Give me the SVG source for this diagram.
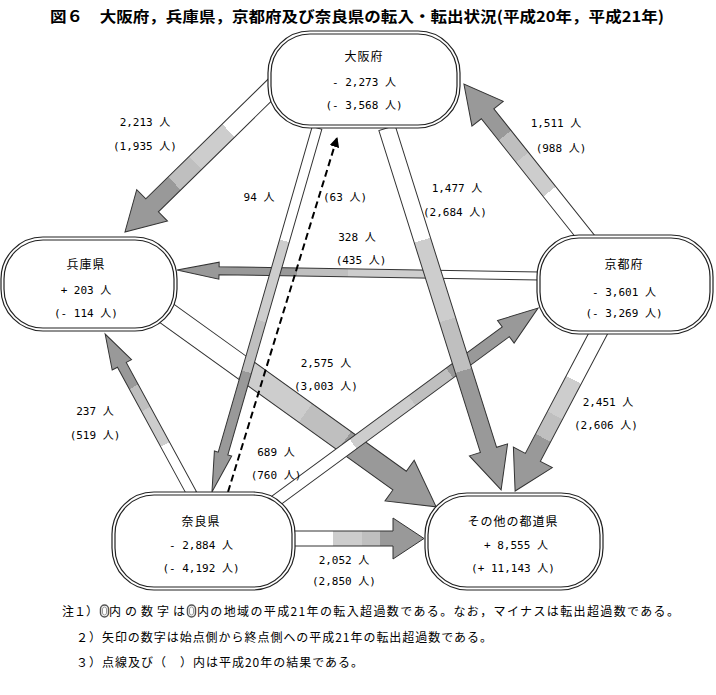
<svg xmlns="http://www.w3.org/2000/svg" width="716" height="695" viewBox="0 0 716 695">
<defs>
<linearGradient id="g" x1="0" y1="0" x2="1" y2="0">
<stop offset="0" stop-color="#fff"/><stop offset="0.31" stop-color="#fff"/>
<stop offset="0.31" stop-color="#cdcdcd"/><stop offset="0.53" stop-color="#cdcdcd"/>
<stop offset="0.53" stop-color="#bfbfbf"/><stop offset="0.67" stop-color="#bfbfbf"/>
<stop offset="0.67" stop-color="#999"/><stop offset="1" stop-color="#999"/>
</linearGradient>
<marker id="ah" viewBox="0 0 10 10" refX="9" refY="5" markerWidth="5" markerHeight="5" orient="auto" markerUnits="strokeWidth">
<path d="M0,0 L10,5 L0,10 Z" fill="#000"/>
</marker>
</defs>
<style>
.a{fill:url(#g);stroke:#333;stroke-width:1}
.o{fill:#fff;stroke:#222;stroke-width:1.2}
.i{fill:none;stroke:#222;stroke-width:1.2}
.t{font-family:"Noto Sans CJK JP",sans-serif;font-size:12px;letter-spacing:1px;text-anchor:middle;fill:#000}
.n{font-family:"DejaVu Sans Mono","Noto Sans CJK JP",monospace;font-size:11px;text-anchor:middle;fill:#000}
.f{font-family:"Noto Sans CJK JP",sans-serif;font-size:12px;fill:#000}
.ttl{font-family:"Noto Sans CJK JP",sans-serif;font-size:15px;font-weight:bold;fill:#000}
</style>
<rect width="716" height="695" fill="#fff"/>
<text class="ttl" x="50" y="22" textLength="614" lengthAdjust="spacingAndGlyphs">図６　大阪府，兵庫県，京都府及び奈良県の転入・転出状況(平成20年，平成21年)</text>
<g id="connectors">
<path class="a" transform="translate(540,276) rotate(180.95)" d="M0,-4 H321 V-8.5 L363,0 L321,8.5 V4 H0 Z"/>
<path class="a" transform="translate(158,307) rotate(35.7)" d="M0,-11.5 H297.5 V-25 L342.5,0 L297.5,25 V11.5 H0 Z"/>
<path class="a" transform="translate(270,505) rotate(-36.3)" d="M0,-6 H292.6 V-14 L332.6,0 L292.6,14 V6 H0 Z"/>
<path class="a" transform="translate(387,128) rotate(72.5)" d="M0,-8.5 H337.5 V-20 L379.5,0 L337.5,20 V8.5 H0 Z"/>
<path class="a" transform="translate(317,128) rotate(106.1)" d="M0,-5 H338.8 V-9 L378.8,0 L338.8,9 V5 H0 Z"/>
<path class="a" transform="translate(275,85) rotate(135.6)" d="M0,-9 H172 V-22 L210,0 L172,22 V9 H0 Z"/>
<path class="a" transform="translate(588,240) rotate(-128.5)" d="M0,-8 H161.3 V-20 L199.3,0 L161.3,20 V8 H0 Z"/>
<path class="a" transform="translate(192,494) rotate(-118.5)" d="M0,-5 H147 V-11 L182,0 L147,11 V5 H0 Z"/>
<path class="a" transform="translate(600,330) rotate(117.8)" d="M0,-8.5 H144 V-22 L182,0 L144,22 V8.5 H0 Z"/>
<path class="a" transform="translate(292,538.5)" d="M0,-7.5 H101 V-20.5 L132,0 L101,20.5 V7.5 H0 Z"/>
<line x1="228" y1="492" x2="337" y2="138" stroke="#000" stroke-width="2" stroke-dasharray="7,4" marker-end="url(#ah)"/>
</g>
<g id="osaka">
<rect class="o" x="268" y="31" width="192" height="97" rx="42"/>
<rect class="i" x="271" y="34" width="186" height="91" rx="39"/>
<text class="t" x="364" y="61">大阪府</text>
<text class="n" x="364" y="86">- 2,273 人</text>
<text class="n" x="364" y="109">(- 3,568 人)</text>
</g>
<g id="hyogo">
<rect class="o" x="1" y="237" width="176" height="94" rx="42"/>
<rect class="i" x="4" y="240" width="170" height="88" rx="39"/>
<text class="t" x="86" y="269">兵庫県</text>
<text class="n" x="86" y="294">+ 203 人</text>
<text class="n" x="86" y="317">(- 114 人)</text>
</g>
<g id="kyoto">
<rect class="o" x="537" y="235" width="176" height="99" rx="42"/>
<rect class="i" x="540" y="238" width="170" height="93" rx="39"/>
<text class="t" x="624" y="269">京都府</text>
<text class="n" x="624" y="296">- 3,601 人</text>
<text class="n" x="624" y="317">(- 3,269 人)</text>
</g>
<g id="nara">
<rect class="o" x="112" y="492" width="183" height="98" rx="42"/>
<rect class="i" x="115" y="495" width="177" height="92" rx="39"/>
<text class="t" x="201" y="526">奈良県</text>
<text class="n" x="201" y="549">- 2,884 人</text>
<text class="n" x="201" y="572">(- 4,192 人)</text>
</g>
<g id="other">
<rect class="o" x="425" y="493" width="178" height="97" rx="42"/>
<rect class="i" x="428" y="496" width="172" height="91" rx="39"/>
<text class="t" x="513" y="526">その他の都道県</text>
<text class="n" x="516" y="549">+ 8,555 人</text>
<text class="n" x="513" y="572">(+ 11,143 人)</text>
</g>
<g id="labels">
<text class="n" x="145" y="126">2,213 人</text>
<text class="n" x="145" y="150">(1,935 人)</text>
<text class="n" x="556" y="127">1,511 人</text>
<text class="n" x="561" y="152">(988 人)</text>
<text class="n" x="259" y="201">94 人</text>
<text class="n" x="345" y="201">(63 人)</text>
<text class="n" x="457" y="192">1,477 人</text>
<text class="n" x="455" y="216">(2,684 人)</text>
<text class="n" x="357" y="241">328 人</text>
<text class="n" x="361" y="264">(435 人)</text>
<text class="n" x="326" y="367">2,575 人</text>
<text class="n" x="326" y="390">(3,003 人)</text>
<text class="n" x="95" y="415">237 人</text>
<text class="n" x="95" y="439">(519 人)</text>
<text class="n" x="276" y="456">689 人</text>
<text class="n" x="276" y="479">(760 人)</text>
<text class="n" x="608" y="406">2,451 人</text>
<text class="n" x="606" y="429">(2,606 人)</text>
<text class="n" x="344" y="564">2,052 人</text>
<text class="n" x="344" y="585">(2,850 人)</text>
</g>
<g id="notes">
<text class="f" x="62" y="616" textLength="36">注１）</text>
<rect x="100.5" y="605" width="8" height="12" rx="4" fill="#fff" stroke="#555" stroke-width="1.5"/>
<rect x="102.5" y="607" width="4" height="8" rx="2" fill="#fff" stroke="#999" stroke-width="1"/>
<text class="f" x="109" y="616" textLength="76">内の数字は</text>
<rect x="187.5" y="605" width="8" height="12" rx="4" fill="#fff" stroke="#555" stroke-width="1.5"/>
<rect x="189.5" y="607" width="4" height="8" rx="2" fill="#fff" stroke="#999" stroke-width="1"/>
<text class="f" x="197" y="616" textLength="482">内の地域の平成21年の転入超過数である。なお，マイナスは転出超過数である。</text>
<text class="f" x="76" y="642" textLength="416">２）矢印の数字は始点側から終点側への平成21年の転出超過数である。</text>
<text class="f" x="76" y="667" textLength="287">３）点線及び（　）内は平成20年の結果である。</text>
</g>
</svg>
